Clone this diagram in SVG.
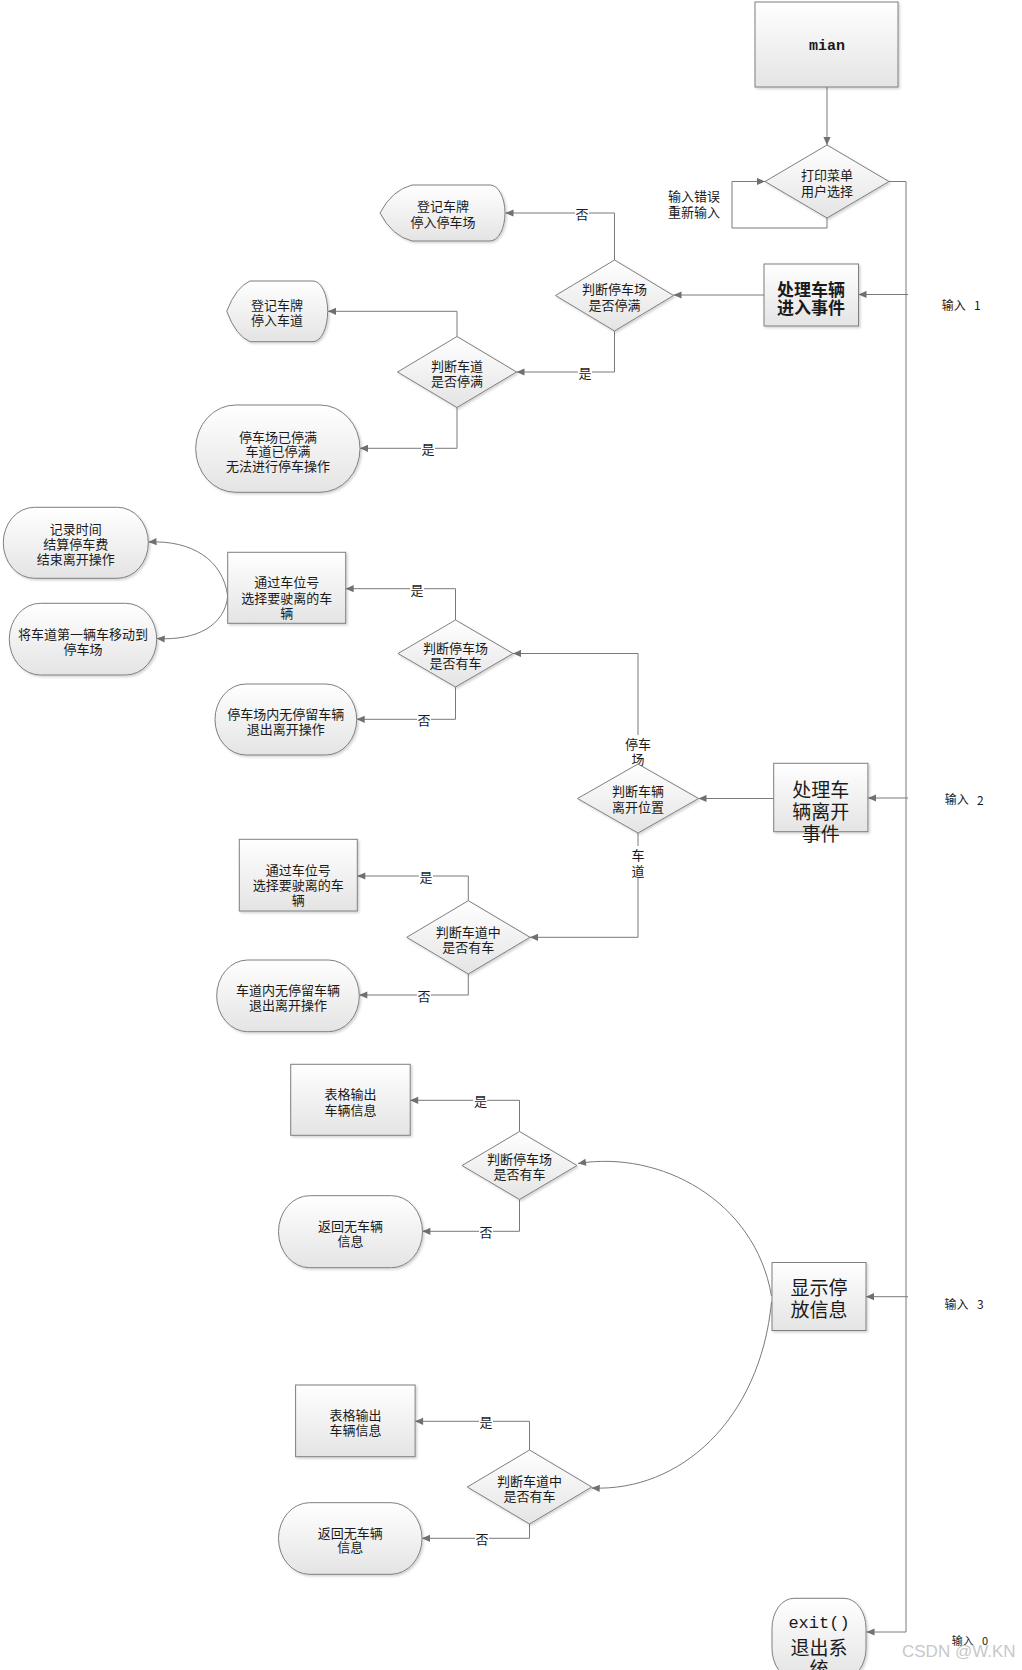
<svg xmlns="http://www.w3.org/2000/svg" width="1022" height="1670" viewBox="0 0 1022 1670">
<defs>
<linearGradient id="g" x1="0" y1="0" x2="0" y2="1">
<stop offset="0" stop-color="#ffffff"/>
<stop offset="1" stop-color="#e4e4e4"/>
</linearGradient>
<filter id="sh" x="-10%" y="-10%" width="125%" height="125%">
<feDropShadow dx="1.5" dy="1.5" stdDeviation="0.8" flood-color="#000" flood-opacity="0.18"/>
</filter>
<marker id="ar" viewBox="0 0 10 10" refX="10" refY="5" markerWidth="9" markerHeight="8" markerUnits="userSpaceOnUse" orient="auto">
<path d="M0,0.5 L10,5 L0,9.5 Z" fill="#707070"/>
</marker>
<style>
.n{fill:url(#g);stroke:#7f7f7f;stroke-width:1;filter:url(#sh)}
.t{font-family:"Noto Sans CJK SC","Liberation Sans",sans-serif;font-size:13px;fill:#1a1a1a;text-anchor:middle;dominant-baseline:central}
.big{font-size:19px}
.bold{font-size:17px;font-weight:bold}
.c{fill:none;stroke:#7a7a7a;stroke-width:1;marker-end:url(#ar)}
.lbg{fill:#ffffff}
.in{font-family:"Noto Sans CJK SC","Liberation Sans",sans-serif;font-size:12px;fill:#1a1a1a;dominant-baseline:central}
</style>
</defs>
<rect x="0" y="0" width="1022" height="1670" fill="#ffffff"/>

<g id="connectors">
<path class="c" d="M827,87 L827,145"/>
<path class="c" d="M827,218 L827,228 L732,228 L732,181.5 L765,181.5"/>
<path class="c" d="M889,181.5 L906,181.5 L906,1632 L866.5,1632"/>
<path class="c" d="M908,294.5 L858.5,294.5"/>
<path class="c" d="M764,295 L673.5,295"/>
<path class="c" d="M614.5,260 L614.5,213 L505.5,213"/>
<path class="c" d="M614.5,331 L614.5,372 L516.5,372"/>
<path class="c" d="M457,336.5 L457,311.3 L328,311.3"/>
<path class="c" d="M457,407.5 L457,448.3 L360,448.3"/>
<path class="c" d="M908,798 L868,798"/>
<path class="c" d="M773.7,798.5 L698.5,798.5"/>
<path class="c" d="M638,764 L638,653.5 L513,653.5"/>
<path class="c" d="M638,833 L638,937.3 L530,937.3"/>
<path class="c" d="M455.5,620 L455.5,588.7 L345.7,588.7"/>
<path class="c" d="M455.5,687 L455.5,719.3 L356.7,719.3"/>
<path class="c" d="M227.7,596 C223,560 192,540 148.5,542"/>
<path class="c" d="M227.7,596 C225,625 197,641 156.7,638.5"/>
<path class="c" d="M468.3,900.7 L468.3,876 L357.3,876"/>
<path class="c" d="M468.3,974 L468.3,995 L359.3,995"/>
<path class="c" d="M908,1296.7 L866,1296.7"/>
<path class="c" d="M771.5,1296 C755,1200 660,1150 578,1163.5"/>
<path class="c" d="M771.5,1302 C760,1420 680,1492 591.7,1488"/>
<path class="c" d="M519.5,1131.5 L519.5,1100.3 L410.2,1100.3"/>
<path class="c" d="M519.5,1199.5 L519.5,1231.3 L422.4,1231.3"/>
<path class="c" d="M529.5,1450 L529.5,1421.3 L415.1,1421.3"/>
<path class="c" d="M529.5,1524 L529.5,1538.3 L422,1538.3"/>
</g>

<g id="labels">
<rect class="lbg" x="575" y="205" width="14" height="16"/><text class="t" x="582" y="213">否</text>
<rect class="lbg" x="578" y="364" width="14" height="16"/><text class="t" x="585" y="372.5">是</text>
<rect class="lbg" x="421" y="440" width="14" height="16"/><text class="t" x="428" y="448.5">是</text>
<rect class="lbg" x="410" y="581" width="14" height="16"/><text class="t" x="417" y="589">是</text>
<rect class="lbg" x="417" y="711" width="14" height="16"/><text class="t" x="424" y="719.5">否</text>
<rect class="lbg" x="625" y="735" width="26" height="31"/>
<text class="t"><tspan x="638" y="743">停车</tspan><tspan x="638" y="758">场</tspan></text>
<rect class="lbg" x="631" y="846" width="14" height="31"/>
<text class="t"><tspan x="638" y="854">车</tspan><tspan x="638" y="869.5">道</tspan></text>
<rect class="lbg" x="419" y="868" width="14" height="16"/><text class="t" x="426" y="876">是</text>
<rect class="lbg" x="417" y="987" width="14" height="16"/><text class="t" x="424" y="995.5">否</text>
<rect class="lbg" x="473" y="1092" width="14" height="16"/><text class="t" x="480.5" y="1100.5">是</text>
<rect class="lbg" x="479" y="1223" width="14" height="16"/><text class="t" x="486" y="1231.5">否</text>
<rect class="lbg" x="479" y="1413" width="14" height="16"/><text class="t" x="486" y="1421.5">是</text>
<rect class="lbg" x="475" y="1530" width="14" height="16"/><text class="t" x="482" y="1538.5">否</text>
<text class="t"><tspan x="694" y="195">输入错误</tspan><tspan x="694" y="211">重新输入</tspan></text>
<text class="in" x="941.7" y="304">输入<tspan x="974">1</tspan></text>
<text class="in" x="944.7" y="798.7">输入<tspan x="977">2</tspan></text>
<text class="in" x="944.4" y="1303.3">输入<tspan x="977">3</tspan></text>
<text class="in" x="951.7" y="1640" style="font-size:11px">输入<tspan x="982">0</tspan></text>
</g>

<g id="mian">
<rect class="n" x="755" y="2" width="143" height="85"/>
<text class="t" x="827" y="46" style="font-family:'Liberation Mono',monospace;font-weight:bold;font-size:15px">mian</text>
</g>

<g id="menu">
<polygon class="n" points="827,145 889,181.5 827,218 765,181.5"/>
<text class="t"><tspan x="827" y="174">打印菜单</tspan><tspan x="827" y="190">用户选择</tspan></text>
</g>

<g id="enter">
<rect class="n" x="764" y="264" width="94.5" height="62"/>
<text class="t bold"><tspan x="811" y="288">处理车辆</tspan><tspan x="811" y="306">进入事件</tspan></text>
</g>

<g id="d1">
<polygon class="n" points="614.5,260 673.5,295.5 614.5,331 555.5,295.5"/>
<text class="t"><tspan x="614.5" y="288">判断停车场</tspan><tspan x="614.5" y="304">是否停满</tspan></text>
</g>

<g id="s1">
<path class="n" d="M412,185 L490,185 A15,28 0 0 1 490,241 L412,241 Q392,236 380,213 Q392,190 412,185 Z"/>
<text class="t"><tspan x="443" y="205">登记车牌</tspan><tspan x="443" y="221">停入停车场</tspan></text>
</g>

<g id="d2">
<polygon class="n" points="457,336.5 516.5,372 457,407.5 397.5,372"/>
<text class="t"><tspan x="457" y="364.5">判断车道</tspan><tspan x="457" y="380">是否停满</tspan></text>
</g>

<g id="s2">
<path class="n" d="M250,281 L313,281 A14.7,30.35 0 0 1 313,341.7 L250,341.7 Q236,336 226.7,311.3 Q236,287 250,281 Z"/>
<text class="t"><tspan x="277" y="304">登记车牌</tspan><tspan x="277" y="319">停入车道</tspan></text>
</g>

<g id="t1">
<rect class="n" x="195.7" y="405" width="164.3" height="87.3" rx="40" ry="43.6"/>
<text class="t"><tspan x="278" y="435.5">停车场已停满</tspan><tspan x="278" y="450">车道已停满</tspan><tspan x="278" y="465">无法进行停车操作</tspan></text>
</g>

<g id="t2">
<rect class="n" x="3.3" y="507.3" width="145" height="71" rx="31" ry="35.5"/>
<text class="t"><tspan x="75.8" y="528.3">记录时间</tspan><tspan x="75.8" y="543.3">结算停车费</tspan><tspan x="75.8" y="558.3">结束离开操作</tspan></text>
</g>

<g id="t3">
<rect class="n" x="9.3" y="603.3" width="147.4" height="71.7" rx="31" ry="35.8"/>
<text class="t"><tspan x="83" y="633.3">将车道第一辆车移动到</tspan><tspan x="83" y="647.5">停车场</tspan></text>
</g>

<g id="b1">
<rect class="n" x="227.7" y="552.3" width="118" height="71"/>
<text class="t"><tspan x="286.7" y="581">通过车位号</tspan><tspan x="286.7" y="596.5">选择要驶离的车</tspan><tspan x="286.7" y="611.5">辆</tspan></text>
</g>

<g id="d3">
<polygon class="n" points="455.5,620 513,653.5 455.5,687 398,653.5"/>
<text class="t"><tspan x="455.5" y="647">判断停车场</tspan><tspan x="455.5" y="662">是否有车</tspan></text>
</g>

<g id="t4">
<rect class="n" x="215" y="684" width="141.7" height="71" rx="31" ry="35.5"/>
<text class="t"><tspan x="285.8" y="712.7">停车场内无停留车辆</tspan><tspan x="285.8" y="727.7">退出离开操作</tspan></text>
</g>

<g id="d4">
<polygon class="n" points="638,764 698.5,798.5 638,833 577.5,798.5"/>
<text class="t"><tspan x="638" y="790">判断车辆</tspan><tspan x="638" y="806">离开位置</tspan></text>
</g>

<g id="leave">
<rect class="n" x="773.7" y="763.3" width="94.2" height="68.4"/>
<text class="t big"><tspan x="820.8" y="787.7">处理车</tspan><tspan x="820.8" y="809.7">辆离开</tspan><tspan x="820.8" y="831.7">事件</tspan></text>
</g>

<g id="b2">
<rect class="n" x="239.3" y="839.3" width="118" height="71.7"/>
<text class="t"><tspan x="298.3" y="869.3">通过车位号</tspan><tspan x="298.3" y="884.3">选择要驶离的车</tspan><tspan x="298.3" y="899">辆</tspan></text>
</g>

<g id="d5">
<polygon class="n" points="468.3,900.7 530,937.3 468.3,974 406.7,937.3"/>
<text class="t"><tspan x="468.3" y="931">判断车道中</tspan><tspan x="468.3" y="946">是否有车</tspan></text>
</g>

<g id="t5">
<rect class="n" x="216.7" y="960" width="142.6" height="71.7" rx="31" ry="35.8"/>
<text class="t"><tspan x="288" y="989.3">车道内无停留车辆</tspan><tspan x="288" y="1004.3">退出离开操作</tspan></text>
</g>

<g id="b3">
<rect class="n" x="290.7" y="1064.3" width="119.5" height="71"/>
<text class="t"><tspan x="350.5" y="1093.3">表格输出</tspan><tspan x="350.5" y="1109">车辆信息</tspan></text>
</g>

<g id="d6">
<polygon class="n" points="519.5,1131.5 577,1165.5 519.5,1199.5 462,1165.5"/>
<text class="t"><tspan x="519.5" y="1158.3">判断停车场</tspan><tspan x="519.5" y="1173.3">是否有车</tspan></text>
</g>

<g id="t6">
<rect class="n" x="278.5" y="1195.7" width="144" height="72" rx="31" ry="36"/>
<text class="t"><tspan x="350.5" y="1225">返回无车辆</tspan><tspan x="350.5" y="1240">信息</tspan></text>
</g>

<g id="show">
<rect class="n" x="772" y="1262.5" width="94" height="68"/>
<text class="t big"><tspan x="819" y="1286">显示停</tspan><tspan x="819" y="1307.5">放信息</tspan></text>
</g>

<g id="b4">
<rect class="n" x="295.6" y="1385" width="119.5" height="71.7"/>
<text class="t"><tspan x="355.4" y="1414.3">表格输出</tspan><tspan x="355.4" y="1429.3">车辆信息</tspan></text>
</g>

<g id="d7">
<polygon class="n" points="529.5,1450 591.7,1487 529.5,1524 467.3,1487"/>
<text class="t"><tspan x="529.5" y="1480">判断车道中</tspan><tspan x="529.5" y="1495">是否有车</tspan></text>
</g>

<g id="t7">
<rect class="n" x="278.5" y="1502.7" width="143.5" height="71.6" rx="31" ry="35.8"/>
<text class="t"><tspan x="350.3" y="1531.7">返回无车辆</tspan><tspan x="350.3" y="1545.7">信息</tspan></text>
</g>

<g id="exit">
<rect class="n" x="772" y="1598.3" width="94" height="80" rx="22" ry="30"/>
<text class="t"><tspan x="819" y="1623" style="font-family:'Liberation Mono',monospace;font-size:17px">exit()</tspan><tspan class="big" x="819" y="1646">退出系</tspan><tspan class="big" x="819" y="1667">统</tspan></text>
</g>

<text x="902" y="1651" style="font-family:'Liberation Sans',sans-serif;font-size:17px;fill:#c8c8c8;dominant-baseline:central">CSDN @W.KN</text>
</svg>
